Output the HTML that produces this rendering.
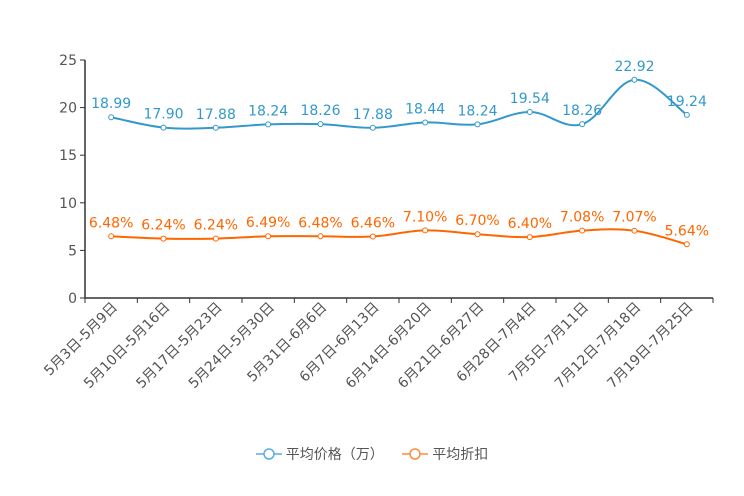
<!DOCTYPE html>
<html><head><meta charset="utf-8"><style>
body{margin:0;background:#fff;}
svg{display:block;font-family:"DejaVu Sans","Noto Sans CJK SC",sans-serif;}
</style></head><body>
<svg id="c" width="744" height="496"></svg>
<script>
const categories=["5月3日-5月9日","5月10日-5月16日","5月17日-5月23日","5月24日-5月30日","5月31日-6月6日","6月7日-6月13日","6月14日-6月20日","6月21日-6月27日","6月28日-7月4日","7月5日-7月11日","7月12日-7月18日","7月19日-7月25日"];
const priceValues=[18.99,17.90,17.88,18.24,18.26,17.88,18.44,18.24,19.54,18.26,22.92,19.24];
const discountValues=[6.48,6.24,6.24,6.49,6.48,6.46,7.10,6.70,6.40,7.08,7.07,5.64];
const yTicks=[0,5,10,15,20,25];
const NS="http://www.w3.org/2000/svg";
const svg=document.getElementById('c');
const x0=85,x1=713,y0=298,y1=60;
const bw=(x1-x0)/categories.length;
const xs=i=>x0+bw*(i+0.5);
const ys=v=>y0-(v/25)*(y0-y1);
function el(t,a,p){const e=document.createElementNS(NS,t);for(const k in a)e.setAttribute(k,a[k]);(p||svg).appendChild(e);return e;}
const ax=el('g',{});


el('line',{x1:x0,y1:y1,x2:x0,y2:y0,stroke:'#333','stroke-width':1.5},ax);
yTicks.forEach(v=>{
  el('line',{x1:x0-5,y1:ys(v),x2:x0,y2:ys(v),stroke:'#333'},ax);
  const t=el('text',{x:x0-8,y:ys(v)+5,'text-anchor':'end','font-size':14,fill:'#555'},ax);t.textContent=v;
  
  
});
const xa=el('g',{});


el('line',{x1:x0,y1:y0,x2:x1,y2:y0,stroke:'#333','stroke-width':1.5},xa);
for(let i=0;i<=categories.length;i++)el('line',{x1:x0+bw*i,y1:y0,x2:x0+bw*i,y2:y0+5,stroke:'#333'},xa);
categories.forEach((c,i)=>{
  const x=xs(i)+7,y=y0+10;
  const t=el('text',{x:x,y:y,'text-anchor':'end','font-size':14,fill:'#555',transform:`rotate(-45 ${x} ${y})`},xa);
  t.textContent=c;
  
  
});
function smooth(pts){
  let d=`M${pts[0][0]},${pts[0][1]}`;
  for(let i=0;i<pts.length-1;i++){
    const p0=pts[i-1]||pts[i],p1=pts[i],p2=pts[i+1],p3=pts[i+2]||p2,k=0.18;
    d+=` C${p1[0]+(p2[0]-p0[0])*k},${p1[1]+(p2[1]-p0[1])*k} ${p2[0]-(p3[0]-p1[0])*k},${p2[1]-(p3[1]-p1[1])*k} ${p2[0]},${p2[1]}`;
  }
  return d;
}
function series(vals,color,name,fmt){
  const g=el('g',{});
  
  
  const pts=vals.map((v,i)=>[xs(i),ys(v)]);
  el('path',{d:smooth(pts),fill:'none',stroke:color,'stroke-width':2},g);
  pts.forEach((p,i)=>{
    const c=el('circle',{cx:p[0],cy:p[1],r:2.5,fill:'#fff',stroke:color,'stroke-width':1},g);
    
    
    const t=el('text',{x:p[0],y:p[1]-9,'text-anchor':'middle','font-size':14,fill:color},g);
    t.textContent=fmt(vals[i]);
    
    
  });
}
series(priceValues,'#3399cc','price-series',v=>v.toFixed(2));
series(discountValues,'#ff6600','discount-series',v=>v.toFixed(2)+'%');
</script>
<div style="position:absolute;left:0;top:444px;width:744px;text-align:center;font:14px 'DejaVu Sans','Noto Sans CJK SC',sans-serif;color:#555;">
<span style="display:inline-flex;align-items:center;margin-right:14px;"><svg width="26" height="14" style="display:inline;margin-right:4px"><line x1="0" y1="7" x2="26" y2="7" stroke="#5aaee0" stroke-width="1.5"/><circle cx="13" cy="7" r="5" fill="#fff" stroke="#5aaee0" stroke-width="1.5"/></svg>平均价格（万）</span>
<span style="display:inline-flex;align-items:center;"><svg width="26" height="14" style="display:inline;margin-right:4px"><line x1="0" y1="7" x2="26" y2="7" stroke="#ff8a3d" stroke-width="1.5"/><circle cx="13" cy="7" r="5" fill="#fff" stroke="#ff8a3d" stroke-width="1.5"/></svg>平均折扣</span>
</div>
</body></html>
